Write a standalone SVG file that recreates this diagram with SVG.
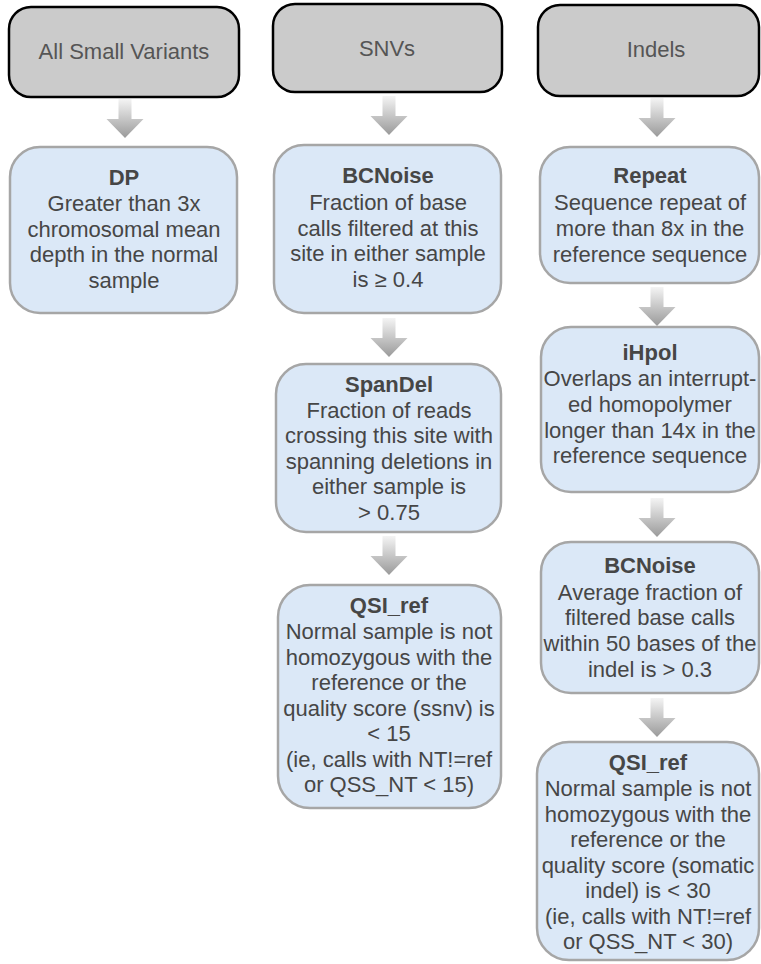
<svg xmlns="http://www.w3.org/2000/svg" width="761" height="964" viewBox="0 0 761 964">
<defs>
<linearGradient id="ag" x1="0" y1="0" x2="0" y2="1">
<stop offset="0" stop-color="#f4f4f4"/>
<stop offset="1" stop-color="#9a9a9a"/>
</linearGradient>
<path id="arr" d="M-6.5,0 H6.5 V20 H18.5 L0,39 L-18.5,20 H-6.5 Z" fill="url(#ag)"/>
</defs>
<style>
.hdr{fill:#cbcbcb;stroke:#000;stroke-width:2.5}
.box{fill:#dbe8f7;stroke:#a6a6a6;stroke-width:2.5}
text{font-family:"Liberation Sans",Arial,sans-serif;font-size:22px;text-anchor:middle}
.ht{fill:#555}
.t{fill:#464646}
.b{font-weight:bold}
</style>
<rect width="761" height="964" fill="#fff"/>
<g id="connectors">
<use href="#arr" x="125" y="99"/>
<use href="#arr" x="389" y="96"/>
<use href="#arr" x="657" y="98"/>
<use href="#arr" x="389" y="318"/>
<use href="#arr" x="389" y="536"/>
<use href="#arr" x="657" y="287"/>
<use href="#arr" x="657" y="498"/>
<use href="#arr" x="657" y="698"/>
</g>
<g id="hdr-all">
<rect class="hdr" x="9" y="7" width="230" height="90" rx="22"/>
<text class="ht" x="124" y="59">All Small Variants</text>
</g>
<g id="hdr-snvs">
<rect class="hdr" x="273" y="4" width="229" height="88" rx="22"/>
<text class="ht" x="387" y="56">SNVs</text>
</g>
<g id="hdr-indels">
<rect class="hdr" x="538" y="5" width="221" height="91" rx="22"/>
<text class="ht" x="656" y="57">Indels</text>
</g>
<g id="dp">
<rect class="box" x="10" y="147" width="227" height="166" rx="30"/>
<text class="t" x="124"><tspan class="b" x="124" y="185">DP</tspan><tspan x="124" y="211">Greater than 3x</tspan><tspan x="124" y="236.5">chromosomal mean</tspan><tspan x="124" y="262">depth in the normal</tspan><tspan x="124" y="287.5">sample</tspan></text>
</g>
<g id="bcnoise-snv">
<rect class="box" x="274" y="145" width="227" height="168" rx="30"/>
<text class="t"><tspan class="b" x="388" y="183">BCNoise</tspan><tspan x="388" y="209.5">Fraction of base</tspan><tspan x="388" y="235.5">calls filtered at this</tspan><tspan x="388" y="261">site in either sample</tspan><tspan x="388" y="286.5">is ≥ 0.4</tspan></text>
</g>
<g id="spandel">
<rect class="box" x="276" y="364" width="225" height="168" rx="30"/>
<text class="t"><tspan class="b" x="389" y="392">SpanDel</tspan><tspan x="389" y="418">Fraction of reads</tspan><tspan x="389" y="443">crossing this site with</tspan><tspan x="389" y="468.5">spanning deletions in</tspan><tspan x="389" y="494">either sample is</tspan><tspan x="389" y="520">&gt; 0.75</tspan></text>
</g>
<g id="qsi-ref-snv">
<rect class="box" x="278" y="585" width="223" height="223" rx="32"/>
<text class="t"><tspan class="b" x="389" y="613">QSI_ref</tspan><tspan x="389" y="639">Normal sample is not</tspan><tspan x="389" y="664.5">homozygous with the</tspan><tspan x="389" y="690">reference or the</tspan><tspan x="389" y="715.5">quality score (ssnv) is</tspan><tspan x="389" y="741">&lt; 15</tspan><tspan x="389" y="766.5">(ie, calls with NT!=ref</tspan><tspan x="389" y="792">or QSS_NT &lt; 15)</tspan></text>
</g>
<g id="repeat">
<rect class="box" x="540" y="147" width="219" height="136" rx="30"/>
<text class="t"><tspan class="b" x="650" y="183">Repeat</tspan><tspan x="650" y="210">Sequence repeat of</tspan><tspan x="650" y="236">more than 8x in the</tspan><tspan x="650" y="262">reference sequence</tspan></text>
</g>
<g id="ihpol">
<rect class="box" x="541" y="327" width="218" height="165" rx="30"/>
<text class="t"><tspan class="b" x="650" y="360">iHpol</tspan><tspan x="650" y="386">Overlaps an interrupt-</tspan><tspan x="650" y="412">ed homopolymer</tspan><tspan x="650" y="437.5">longer than 14x in the</tspan><tspan x="650" y="463">reference sequence</tspan></text>
</g>
<g id="bcnoise-indel">
<rect class="box" x="541" y="542" width="218" height="151" rx="30"/>
<text class="t"><tspan class="b" x="650" y="573">BCNoise</tspan><tspan x="650" y="599.5">Average fraction of</tspan><tspan x="650" y="625">filtered base calls</tspan><tspan x="650" y="651">within 50 bases of the</tspan><tspan x="650" y="676.5">indel is &gt; 0.3</tspan></text>
</g>
<g id="qsi-ref-indel">
<rect class="box" x="537" y="742" width="222" height="218" rx="32"/>
<text class="t"><tspan class="b" x="648" y="770">QSI_ref</tspan><tspan x="648" y="796">Normal sample is not</tspan><tspan x="648" y="821.5">homozygous with the</tspan><tspan x="648" y="847">reference or the</tspan><tspan x="648" y="872.5">quality score (somatic</tspan><tspan x="648" y="898">indel) is &lt; 30</tspan><tspan x="648" y="923.5">(ie, calls with NT!=ref</tspan><tspan x="648" y="949">or QSS_NT &lt; 30)</tspan></text>
</g>
</svg>
